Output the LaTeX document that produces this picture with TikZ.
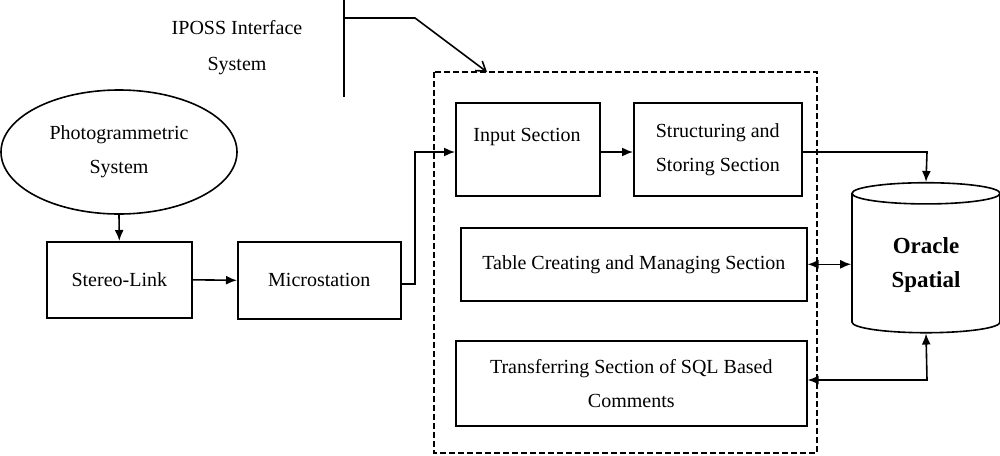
\documentclass[tikz,border=0pt]{standalone}
\usepackage{fontspec}
\setmainfont{Liberation Serif}
\usetikzlibrary{shapes.geometric,arrows.meta}
\begin{document}
\begin{tikzpicture}[x=1pt,y=-1pt,line width=1.6pt,
 box/.style={draw,inner sep=0pt,anchor=north west,align=center,font=\fontsize{20}{34}\selectfont},
 ar/.style={-{Latex[length=11pt,width=9pt]}},
 dar/.style={{Latex[length=11pt,width=9pt]}-{Latex[length=11pt,width=9pt]}}]
\useasboundingbox (0,0) rectangle (1000,455);
\node[align=center,font=\fontsize{20}{36}\selectfont] (t) at (237,48) {IPOSS Interface\\System};
\coordinate (v1) at (344,0); \coordinate (v2) at (344,97);
\draw (v1) -- (v2);
\coordinate (h1) at (344,18); \coordinate (h2) at (415,18); \coordinate (h3) at (487,72);
\draw[-{Straight Barb[length=9pt,width=12pt]}] (h1) -- (h2) -- (h3);
\draw[dash pattern=on 6pt off 3pt] (434,72) rectangle (817,453);
\node[draw,ellipse,minimum width=236pt,minimum height=124pt,align=center,font=\fontsize{20}{34}\selectfont] (ph) at (119,152) {Photogrammetric\\System};
\node[box,minimum width=145pt,minimum height=76pt] (sl) at (46,241) {Stereo-Link};
\node[box,minimum width=163pt,minimum height=77pt] (ms) at (237,241) {Microstation};
\node[box,minimum width=144pt,minimum height=93pt] (in) at (455,102) {};
\node at (527,137) [font=\fontsize{20}{34}\selectfont] {Input Section};
\node[box,minimum width=168pt,minimum height=93pt] (st) at (633,102) {Structuring and\\Storing Section};
\node[box,minimum width=346pt,minimum height=73pt] (tb) at (460,227) {Table Creating and Managing Section};
\node[box,minimum width=351pt,minimum height=85pt] (tr) at (455,340) {Transferring Section of SQL Based\\Comments};
\node[draw,cylinder,shape border rotate=90,aspect=0.28,minimum width=148pt,minimum height=150pt,align=center,font=\bfseries\fontsize{23}{34}\selectfont] (or) at (926,265) {Oracle\\Spatial};
\draw[ar] (ph.south) -- (sl.north);
\draw[ar] (sl.east) -- (ms.west);
\coordinate (m1) at (415,284); \coordinate (m2) at (415,152);
\draw[ar] (ms.east|-m1) -- (m1) -- (m2) -- (in.west|-m2);
\draw[ar] (in.east|-m2) -- (st.west|-m2);
\coordinate (s1) at (927,152);
\draw[ar] (st.east|-s1) -- (s1) -- (or.top);
\draw[dar] (tb.east) -- (or.west|-tb.east);
\coordinate (r1) at (927,380);
\draw[dar] (tr.east|-r1) -- (r1) -- (or.bottom);
\end{tikzpicture}
\end{document}
